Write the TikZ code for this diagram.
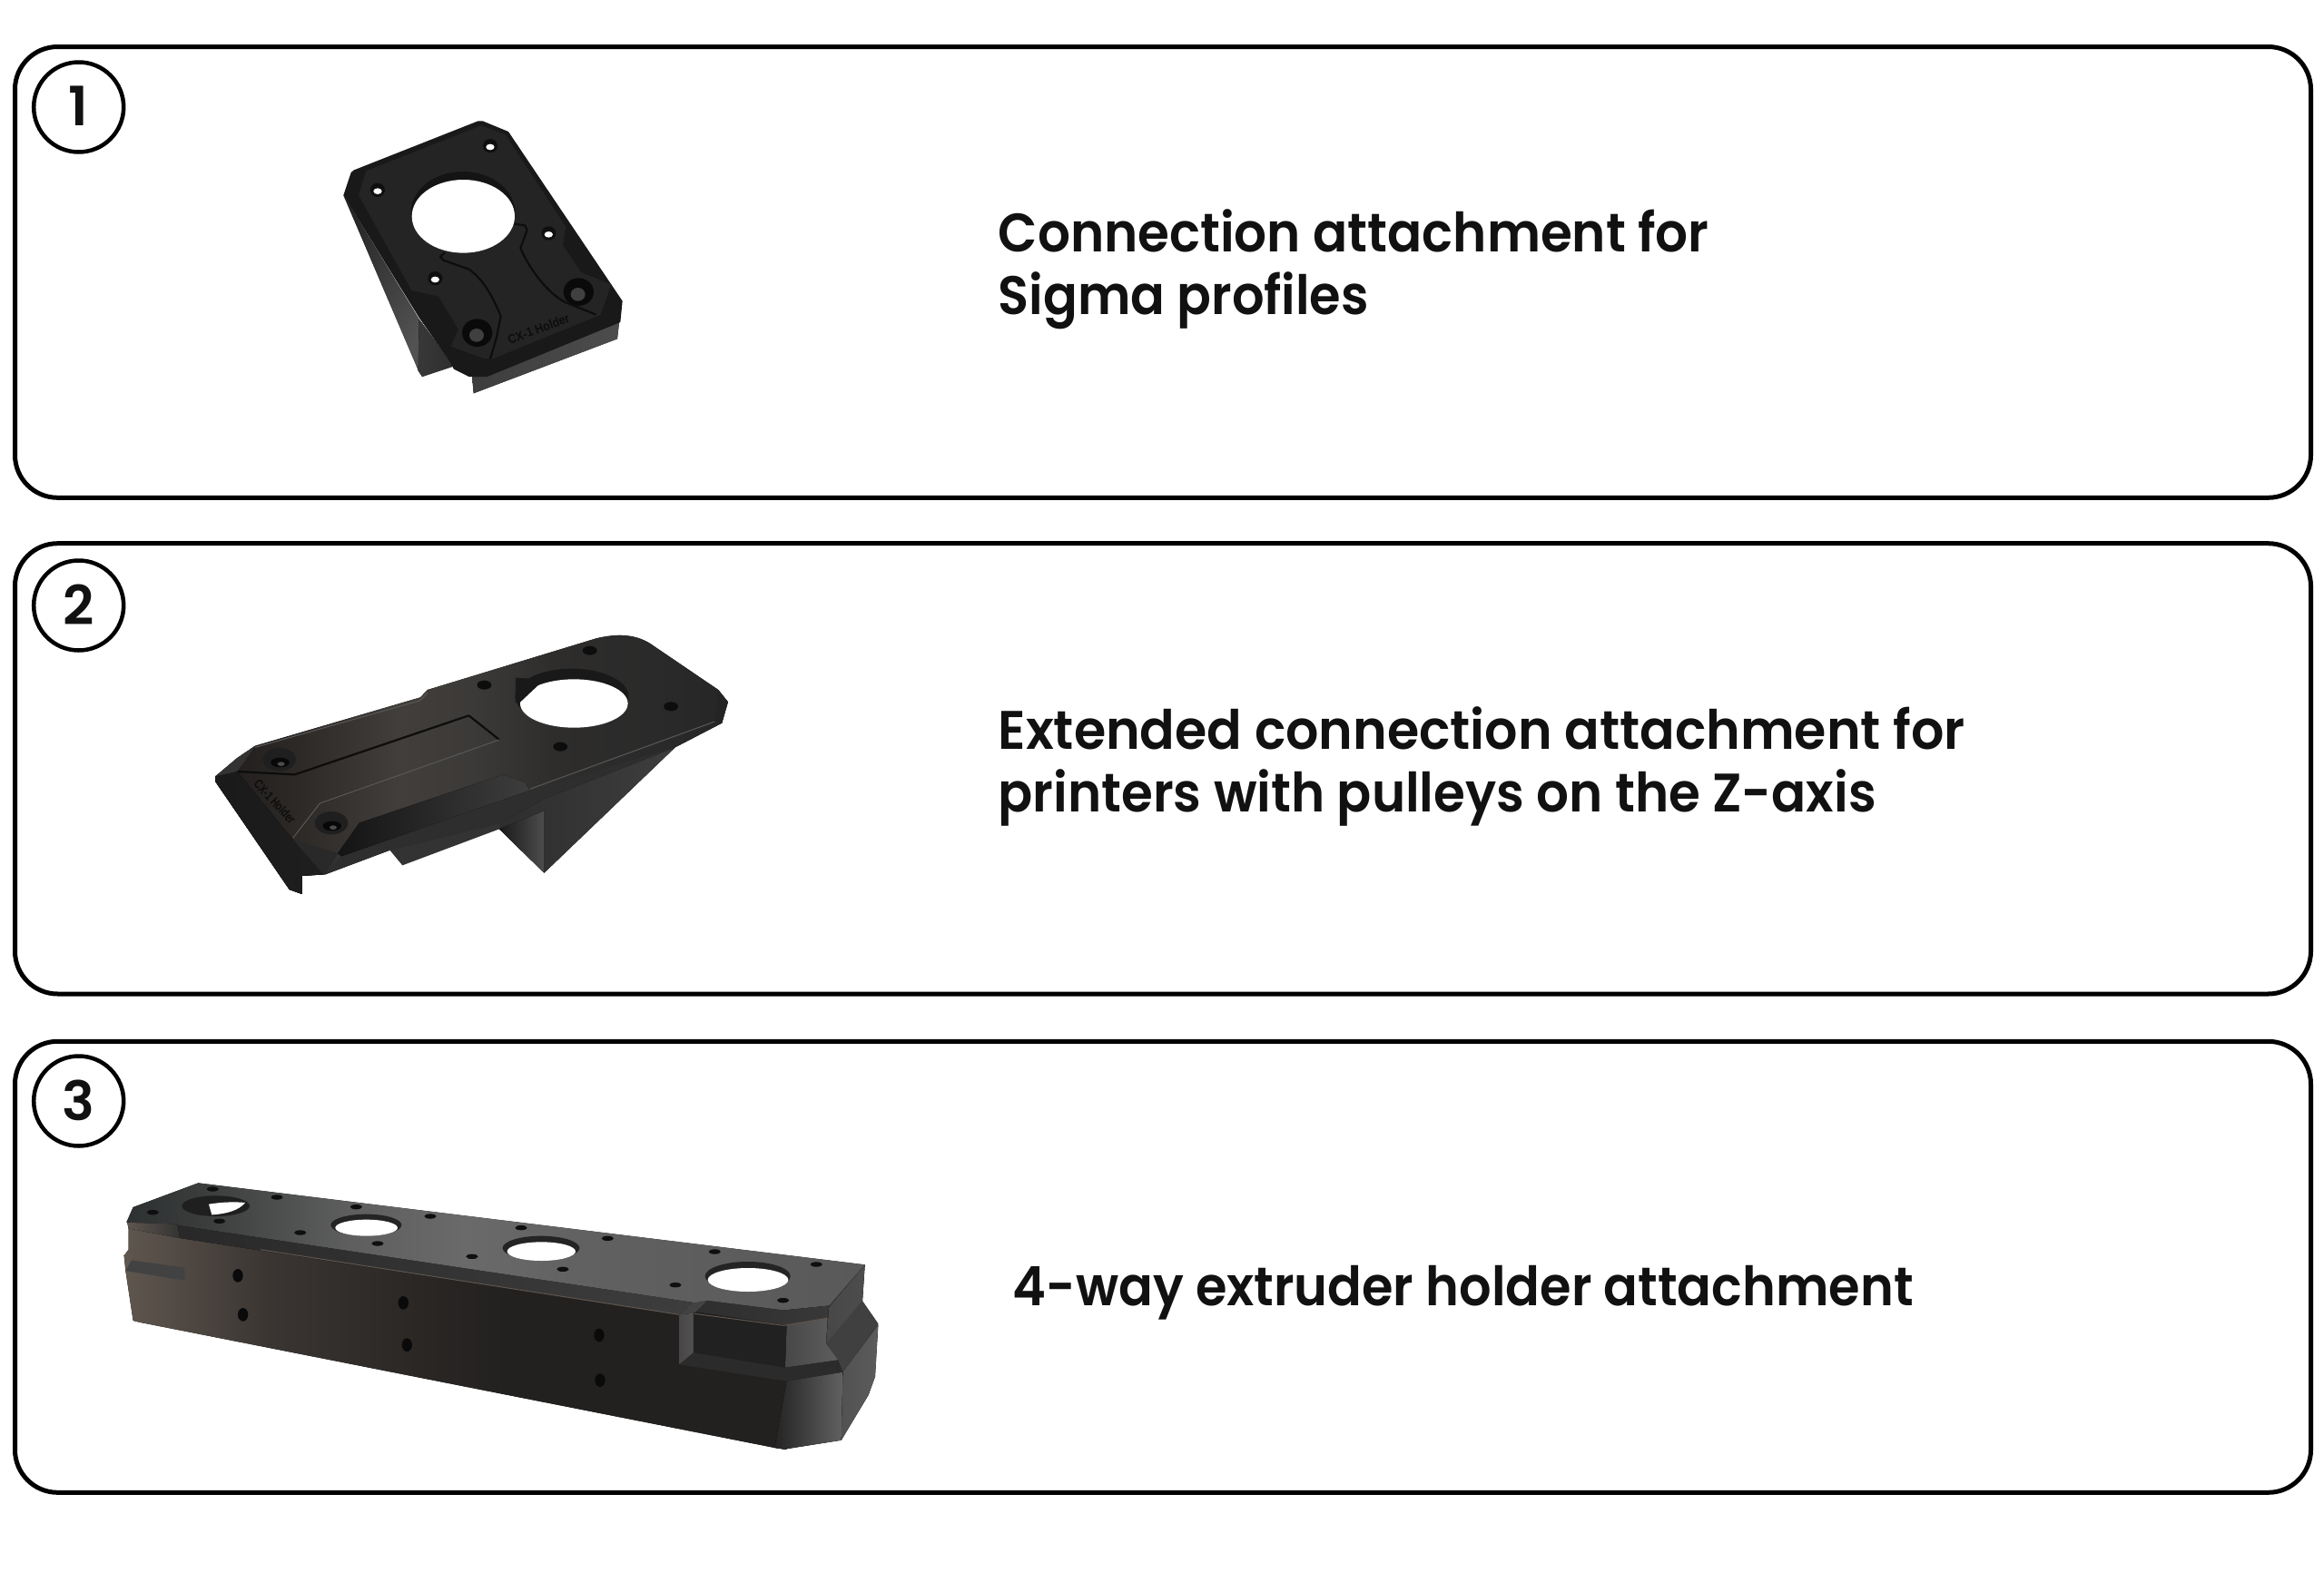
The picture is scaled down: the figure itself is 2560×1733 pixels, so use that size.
\documentclass[tikz,border=0pt]{standalone}
\usepackage{fontspec}
\usepackage{graphicx}
\newfontfamily\pop{Poppins SemiBold}
\newfontfamily\lib{Liberation Sans}
\newlength\fitlen
\newcommand\fitw[2]{\settowidth\fitlen{#2}\pgfmathsetmacro\fitr{#1*0.284528/\fitlen}\scalebox{\fitr}[1]{#2}}
\definecolor{ink}{HTML}{111111}
\definecolor{warm}{HTML}{5F564E}
\definecolor{warmb}{HTML}{3A3532}
\definecolor{warmc}{HTML}{292624}
\definecolor{warmdk}{HTML}{232120}
\definecolor{ta}{HTML}{2E3131}
\definecolor{tb}{HTML}{3A3C3C}
\definecolor{tc}{HTML}{5E5E5E}
\definecolor{td}{HTML}{6A6A6A}
\definecolor{te}{HTML}{606060}
\definecolor{tf}{HTML}{595959}
\definecolor{pa}{HTML}{211E1D}
\definecolor{pb}{HTML}{2C2927}
\definecolor{pc}{HTML}{413E3B}
\definecolor{pd}{HTML}{3C3A38}
\definecolor{pe}{HTML}{2E2D2C}
\definecolor{pf}{HTML}{2A2A2A}
\definecolor{pg}{HTML}{262626}
\pgfdeclarehorizontalshading{bodyshade}{100bp}{color(0bp)=(warm); color(25bp)=(warm); color(36bp)=(warmb); color(48bp)=(warmc); color(54bp)=(warmdk); color(100bp)=(warmdk)}
\pgfdeclarehorizontalshading{topshade}{100bp}{color(0bp)=(ta); color(25bp)=(ta); color(30bp)=(tb); color(40bp)=(tc); color(48bp)=(td); color(57bp)=(te); color(75bp)=(tf); color(100bp)=(tf)}
\pgfdeclarehorizontalshading{plateshade}{100bp}{color(0bp)=(pa); color(26bp)=(pa); color(33bp)=(pb); color(43bp)=(pc); color(50bp)=(pd); color(58bp)=(pe); color(68bp)=(pf); color(75bp)=(pg); color(100bp)=(pg)}
\tikzset{
  frame/.style={draw=black,line width=0.5mm,rounded corners=4.7mm},
  numring/.style={circle,draw=black,line width=0.45mm,minimum size=9.9mm,inner sep=0pt},
  digit/.style={font=\pop\fontsize{17}{20}\selectfont,text=ink,inner sep=0pt,anchor=base},
  caption/.style={font=\pop\fontsize{17}{20}\selectfont,text=ink,inner sep=0pt,anchor=base west},
  tag/.style={font=\lib\bfseries\fontsize{4}{5}\selectfont,text=black!95,inner sep=0pt},
  seam/.style={draw=black!95,line width=0.22mm,line join=round},
  glint/.style={draw=black!65,line width=0.1mm,line join=round},
}
\begin{document}
\begin{tikzpicture}[x=0.1mm,y=-0.1mm]
\useasboundingbox (0,0) rectangle (2560,1733);
\fill[white] (0,0) rectangle (2560,1733);

% frames
\draw[frame] (16.5,51.5) rectangle (2545.5,548.3);
\draw[frame] (16.5,598.7) rectangle (2545.5,1095);
\draw[frame] (16.5,1147.3) rectangle (2545.5,1644.3);

% numbers
\node[numring] (r1) at (86.7,118) {};
\node[numring] (r2) at (86.7,667) {};
\node[numring] (r3) at (86.7,1213) {};
\node[digit] (d1) at (86.7,138) {1};
\node[digit] (d2) at (86.7,688) {2};
\node[digit] (d3) at (86.7,1234) {3};

% captions
\node[caption] (t1a) at (1099,277) {\fitw{783}{Connection attachment for}};
\node[caption] (t1b) at (1099,346) {\fitw{408}{Sigma profiles}};
\node[caption] (t2a) at (1099,825) {\fitw{1065}{Extended connection attachment for}};
\node[caption] (t2b) at (1099,894) {\fitw{967}{printers with pulleys on the Z-axis}};
\node[caption] (t3a) at (1115,1438) {\fitw{992}{4-way extruder holder attachment}};

% ---------- part 1
\begin{scope}[shift={(340,110)},scale=0.33333]
\fill[left color=black!85,right color=black!68,shading angle=60] (115,315)--(365,725)--(365,900)--cycle;
\fill[left color=black!78,right color=black!82] (365,725)--(480,880)--(375,915)--(362,895)--cycle;
\fill[left color=black!76,right color=black!70] (540,910)--(545,970)--(1020,790)--(1030,700)--cycle;
\fill[black!90,line join=round] (115,315)--(140,240)--(150,232)--(560,70)--(575,70)--(660,105)--(1037,665)--(1030,735)--(590,915)--(530,915)--(480,890)--(460,855)--(365,720)--cycle;
\fill[black!86,line join=round] (190,235)--(570,85)--(650,115)--(850,420)--(840,480)--(900,570)--(1000,610)--(965,710)--(610,855)--(580,855)--(470,815)--(495,760)--(430,650)--(340,630)--(165,315)--cycle;
\fill[black!92] (510,372) circle [x radius=172,y radius=135];
\fill[white] (511,385) circle [x radius=170,y radius=121];
\foreach \a/\b in {228/298,600/152,793/441,418/590}{
  \fill[black!94] (\a,\b) circle [x radius=24,y radius=23];
  \fill[white] (\a,\b+4) circle [x radius=14,y radius=10];
}
\foreach \a/\b in {557/770,892/635}{
  \fill[black!96] (\a,\b) circle [x radius=50,y radius=46];
  \fill[black!75] (\a-2,\b+8) circle [x radius=24,y radius=22];
}
\draw[seam] (450,505)--(435,518)--(445,530)--(530,560) .. controls (570,590) and (600,630) .. (635,715)--(620,790)--(600,855);
\draw[seam] (680,410)--(715,415)--(722,430)--(700,490) .. controls (730,560) and (790,640) .. (850,670)--(950,710);
\node[tag,rotate=20] (tag1) at (760,757) {\fitw{71}{CX-1 Holder}};
\end{scope}

% ---------- part 2
\begin{scope}[shift={(210,680)},xscale=0.3954,yscale=0.33333]
\fill[left color=black!84,right color=black!76,line join=round] (700,650)--(1350,430)--(985,845)--(860,700)--cycle;
\fill[left color=black!90,right color=black!70] (860,700)--(985,640)--(985,845)--cycle;
\fill[black!80] (555,770)--(590,820)--(860,700)--(860,660)--cycle;
\fill[shading=plateshade,line join=round] (70,525)--(130,465)--(180,425)--(640,265)--(660,240)--(1130,70) .. controls (1200,50) and (1250,60) .. (1290,95)--(1470,240)--(1497,280)--(1480,350)--(1350,430)--(985,600)--(860,680)--(555,770)--(375,850)--(310,855)--(310,915)--(275,900)--(70,545)--cycle;
\fill[black!82] (420,790)--(945,572)--(1350,430)--(985,600)--(860,680)--(555,770)--(375,850)--cycle;
\fill[left color=black!90,right color=black!88] (70,525)--(130,510)--(285,735)--(370,850)--(310,855)--(310,915)--(275,900)--(70,545)--cycle;
\fill[black!80] (70,525)--(130,465)--(180,425)--(130,510)--cycle;
\fill[black!84] (285,735)--(410,780)--(375,850)--(370,850)--cycle;
\fill[left color=black!92,right color=black!76] (410,780)--(470,680)--(870,520)--(930,545)--(945,572)--(420,790)--cycle;
\fill[black!86] (1470,240)--(1497,280)--(1480,350)--(1460,340)--cycle;
\draw[seam] (130,510)--(290,520)--(775,325)--(860,405);
\draw[glint] (360,615)--(860,405);
\draw[glint] (360,615)--(285,730);
\draw[glint] (180,430)--(640,275)--(660,250);
\draw[glint] (945,568)--(1460,345);
\fill[black!90] (1062,262) circle [x radius=158,y radius=92];
\fill[white] (1068,285) circle [x radius=150,y radius=80];
\fill[black!90] (905,200)--(985,206)--(917,282)--(905,282)--cycle;
\foreach \a/\b in {818/224,1112/110,1338/295,1030/428}{
  \fill[black!95] (\a,\b) circle [x radius=20,y radius=15];
}
\foreach \a/\b in {247/470,392/680}{
  \fill[black!88] (\a,\b) circle [x radius=46,y radius=38];
  \fill[black!97] (\a+2,\b+10) circle [x radius=26,y radius=16];
  \fill[black!70] (\a+5,\b+15) circle [x radius=10,y radius=7];
}
\node[tag,rotate=-47] (tag2) at (235,610) {\fitw{60}{CX-1 Holder}};
\end{scope}

% ---------- part 3
\begin{scope}[shift={(120,1280)},scale=0.33333]
% silhouette of the right end
\fill[black!75] (2230,490)--(2498,340)--(2490,460)--(2542,535)--(2530,710)--(2510,770)--(2420,920)--(2230,950)--cycle;
% front
\fill[shading=bodyshade] (65,215)--(65,290)--(50,310)--(55,360)--(80,525)--(100,530)--(2200,945)--(2240,950)--(2240,540)--(235,240)--cycle;
\fill[black!74] (55,360)--(75,325)--(250,350)--(250,392)--cycle;
% right facets
\fill[left color=black!72,right color=black!70] (2380,480)--(2498,340)--(2490,460)--(2395,575)--(2370,600)--cycle;
\fill[black!75] (2490,460)--(2542,535)--(2420,680)--(2410,655)--(2370,600)--cycle;
\fill[left color=black!68,right color=black!64] (2542,540)--(2532,710)--(2510,770)--(2420,920)--(2425,695)--cycle;
\fill[left color=black!86,right color=black!62] (2240,725)--(2425,695)--(2420,920)--(2230,950)--(2200,945)--cycle;
\fill[left color=black!72,right color=black!63] (2240,540)--(2375,515)--(2370,600)--(2410,655)--(2235,680)--cycle;
\fill[black!83] (1885,670)--(1930,630)--(2235,680)--(2410,655)--(2425,695)--(2240,725)--cycle;
\fill[left color=black!72,right color=black!68] (1885,505)--(1932,500)--(1932,630)--(1885,670)--cycle;
\fill[black!87] (1932,500)--(2235,540)--(2235,680)--(1932,630)--cycle;
% band
\fill[left color=black!82,right color=black!78] (1940,495)--(1975,458)--(2230,490)--(2380,475)--(2375,515)--(2240,540)--cycle;
\fill[left color=black!84,right color=black!76] (222,205)--(1935,465)--(1885,505)--(235,252)--cycle;
\fill[black!74] (1885,505)--(1935,465)--(1975,458)--(1940,495)--(1932,500)--cycle;
\fill[left color=warm,right color=black!80] (60,200)--(225,205)--(235,252)--(65,220)--cycle;
\draw[draw=warm,line width=0.1mm] (500,290)--(1885,505);
\draw[draw=warm,line width=0.1mm] (1935,502)--(2230,541)--(2375,516);
% top
\fill[shading=topshade,line join=round] (58,200)--(80,150)--(295,70)--(2498,340)--(2380,475)--(2230,490)--(1975,458)--(1935,465)--(230,210)--(225,205)--cycle;
% big holes
\fill[black!88] (353,146) circle [x radius=112,y radius=34];
\fill[white] (330,140) .. controls (380,132) and (420,132) .. (450,135) .. controls (430,160) and (390,172) .. (340,175)--cycle;
\foreach \a/\b/\c/\d/\e/\f in {850/209/117/36/218/103,1428/285/127/40/296/113,2111/378/141/48/390/133}{
  \fill[black!86] (\a,\b) circle [x radius=\c,y radius=\d];
  \fill[white] (\a+1,\e) circle [x radius=\f,y radius=\d-9];
}
% small holes
\foreach \a/\b in {343/90,555/117,145/167,365/196,817/149,1062/180,632/234,888/270,1200/313,1362/218,1648/253,1500/355,1872/407,2002/297,2338/339,2228/458}{
  \fill[black!94] (\a,\b) circle [x radius=20,y radius=8];
}
% side holes
\foreach \a/\b in {426/376,443/505,973/466,985/605,1620/573,1623/722}{
  \fill[black!96] (\a,\b) circle [x radius=17,y radius=22];
}
\end{scope}
\end{tikzpicture}
\end{document}
